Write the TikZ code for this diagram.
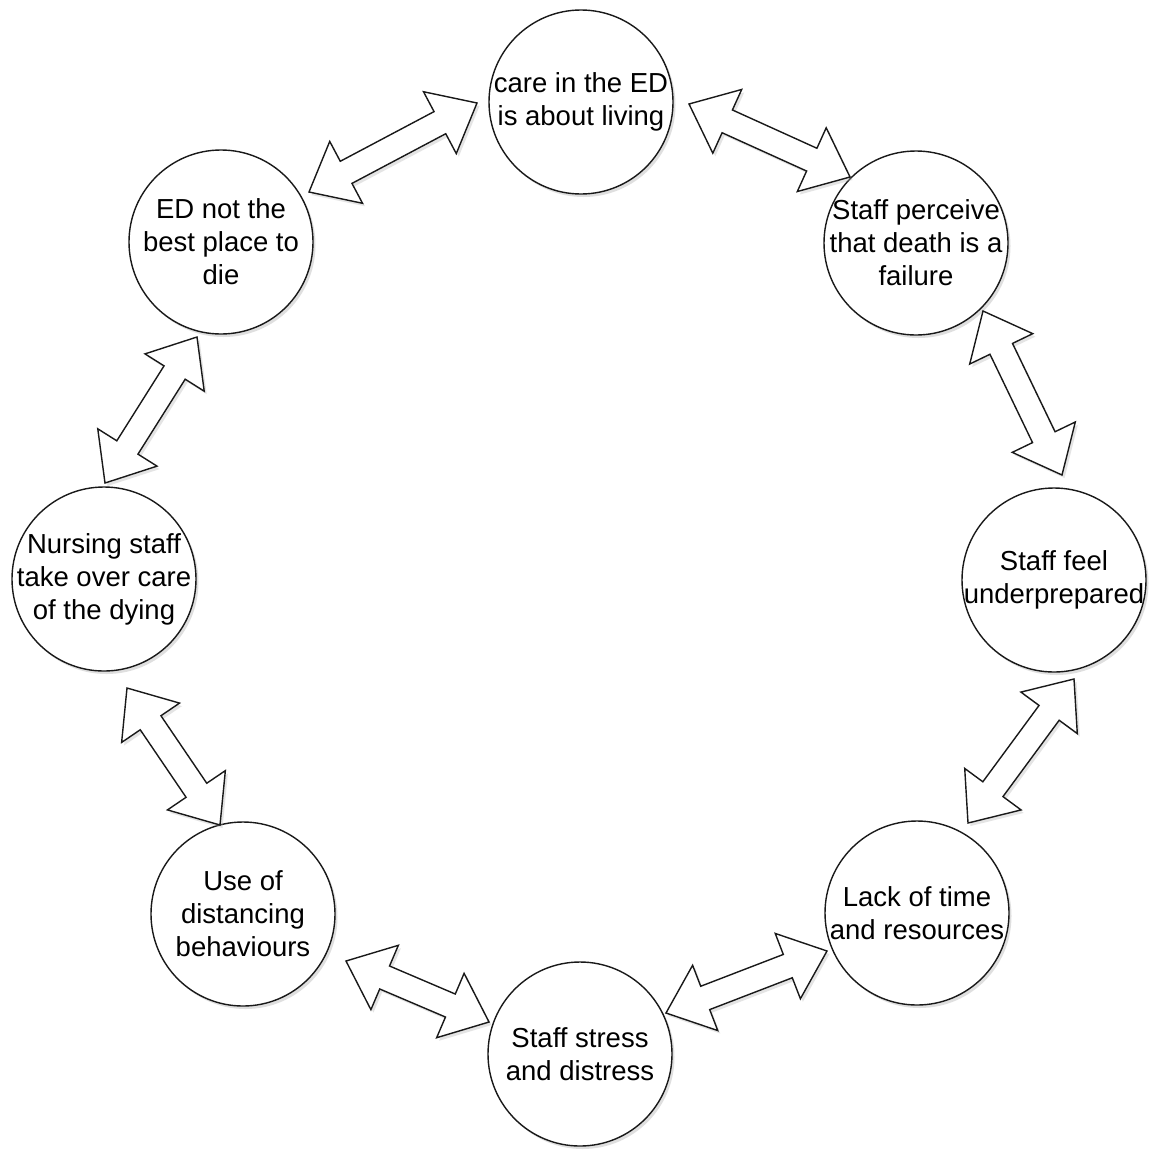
\documentclass[tikz,border=0pt]{standalone}
\usepackage{fontspec}
\setmainfont{Liberation Sans}
\usetikzlibrary{calc,shadows}
\tikzset{
  circ/.style={circle, draw=black!90, line width=1.4pt, fill=white, minimum size=184pt, inner sep=0pt,
    drop shadow={shadow xshift=2.5pt, shadow yshift=-3pt, fill=black!35, opacity=0.35}},
  lbl/.style={align=center, inner sep=0pt, font=\fontsize{27.5}{33}\selectfont, text=black},
  barrow/.style={draw=black!90, line width=1.4pt, fill=white, line join=miter,
    drop shadow={shadow xshift=2.5pt, shadow yshift=-3pt, fill=black!35, opacity=0.3}}
}
\newcommand\blockarrow[2]{%
  \path ($(#1)!42pt!(#2)$) coordinate (hA) ($(#2)!42pt!(#1)$) coordinate (hB);
  \draw[barrow] (#1) -- ($(hA)!35pt!90:(#2)$) -- ($(hA)!12.5pt!90:(#2)$)
    -- ($(hB)!12.5pt!-90:(#1)$) -- ($(hB)!35pt!-90:(#1)$) -- (#2)
    -- ($(hB)!35pt!90:(#1)$) -- ($(hB)!12.5pt!90:(#1)$)
    -- ($(hA)!12.5pt!-90:(#2)$) -- ($(hA)!35pt!-90:(#2)$) -- cycle;
}
\begin{document}
\begin{tikzpicture}[x=1pt, y=-1pt]
\useasboundingbox[fill=white] (0,0) rectangle (1150,1149);
% circles
\node[circ] (top) at (581,102) {};
\node[circ] (tr)  at (916,243) {};
\node[circ] (r)   at (1054,580) {};
\node[circ] (br)  at (917,913) {};
\node[circ] (b)   at (580,1054) {};
\node[circ] (bl)  at (243,914) {};
\node[circ] (l)   at (104,579) {};
\node[circ] (tl)  at (221,242) {};
% labels
\node[lbl] (ttop) at (top) {care in the ED\\is about living};
\node[lbl] (ttr)  at (tr)  {Staff perceive\\that death is a\\failure};
\node[lbl] (tr2)  at (r)   {Staff feel\\underprepared};
\node[lbl] (tbr)  at (br)  {Lack of time\\and resources};
\node[lbl] (tb)   at (b)   {Staff stress\\and distress};
\node[lbl] (tbl)  at (bl)  {Use of\\distancing\\behaviours};
\node[lbl] (tl2)  at (l)   {Nursing staff\\take over care\\of the dying};
\node[lbl] (ttl)  at (tl)  {ED not the\\best place to\\die};
% arrow tips
\coordinate (a1s) at (309,192);  \coordinate (a1e) at (477,103);
\coordinate (a2s) at (689,104);  \coordinate (a2e) at (850,177);
\coordinate (a3s) at (983,311);  \coordinate (a3e) at (1062,475);
\coordinate (a4s) at (1074,679); \coordinate (a4e) at (968,823);
\coordinate (a5s) at (827,951);  \coordinate (a5e) at (666,1013);
\coordinate (a6s) at (489,1022); \coordinate (a6e) at (346,961);
\coordinate (a7s) at (220,825);  \coordinate (a7e) at (127,688);
\coordinate (a8s) at (105,483);  \coordinate (a8e) at (197,337);
\blockarrow{a1s}{a1e}
\blockarrow{a2s}{a2e}
\blockarrow{a3s}{a3e}
\blockarrow{a4s}{a4e}
\blockarrow{a5s}{a5e}
\blockarrow{a6s}{a6e}
\blockarrow{a7s}{a7e}
\blockarrow{a8s}{a8e}
\end{tikzpicture}
\end{document}
